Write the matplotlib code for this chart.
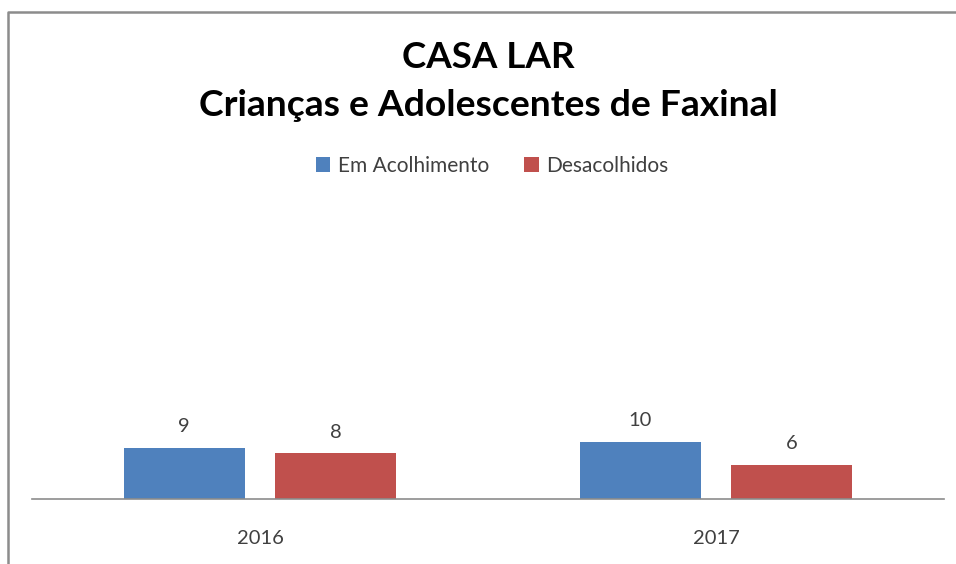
import numpy as np
import matplotlib
matplotlib.use("Agg")
from matplotlib import pyplot as plt
from matplotlib.lines import Line2D

years = ["2016", "2017"]
series = ["Em Acolhimento", "Desacolhidos"]
em_acolhimento = [9, 10]
desacolhidos = [8, 6]
colors = ["#4f81bd", "#c0504d"]

W, H = 956, 564
plt.rcParams["font.family"] = ["Lato", "DejaVu Sans"]

fig = plt.figure(figsize=(W / 100, H / 100), dpi=100)
fig.patch.set_facecolor("white")

# chart border (only left and top edges are in view)
fig.add_artist(Line2D([8 / W, 8 / W, 1.0], [0.0, 1 - 12 / H, 1 - 12 / H],
                      transform=fig.transFigure, color="#8c8c8c", lw=1.8))

ax = fig.add_axes([32 / W, (H - 499) / H, (944 - 32) / W, (499 - 190) / H])
x = np.arange(len(years))
width = 0.265
offset = 0.166
for vals, name, col, off in zip([em_acolhimento, desacolhidos], series, colors, [-offset, offset]):
    bars = ax.bar(x + off, vals, width, color=col, label=name)
    ax.bar_label(bars, labels=[str(v) for v in vals], padding=9, fontsize=14.5, color="#404040")

ax.set_xlim(-0.5, 1.5)
ax.set_ylim(0, 54.2)
ax.set_yticks([])
ax.set_xticks(x)
ax.set_xticklabels(years, fontsize=14.5, color="#404040")
ax.tick_params(axis="x", length=0, pad=22)
for s in ["top", "left", "right"]:
    ax.spines[s].set_visible(False)
ax.spines["bottom"].set_color("#8c8c8c")
ax.spines["bottom"].set_linewidth(1.2)
ax.patch.set_alpha(0)

fig.text(488 / W, 1 - 57 / H, "CASA LAR", ha="center", va="center",
         fontsize=26.5, fontweight="bold", color="black")
fig.text(488 / W, 1 - 105 / H, "Crianças e Adolescentes de Faxinal", ha="center", va="center",
         fontsize=26.8, fontweight="bold", color="black")

fig.legend(loc="center", bbox_to_anchor=(492 / W, 1 - 166 / H), ncol=2, frameon=False,
           fontsize=15, handlelength=0.7, handleheight=0.7, handletextpad=0.35,
           columnspacing=1.7, labelcolor="#404040")

fig.savefig("out.png", dpi=100)
